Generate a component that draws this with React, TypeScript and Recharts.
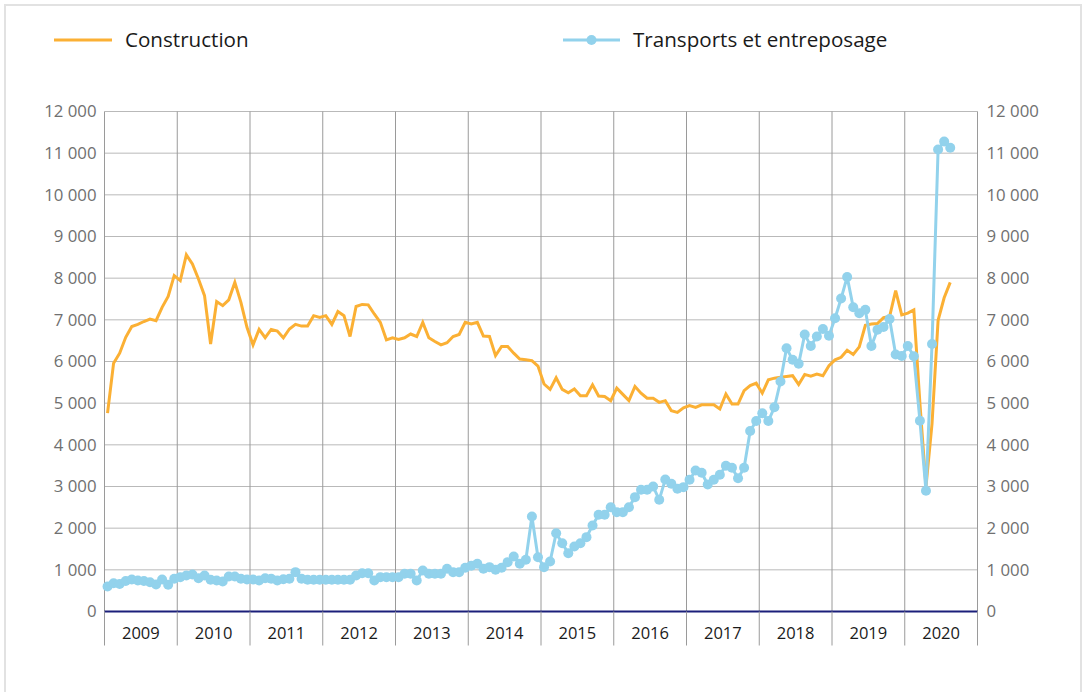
import React from 'react';
import { LineChart, Line, XAxis, YAxis, CartesianGrid, Legend } from 'recharts';

const years = ['2009', '2010', '2011', '2012', '2013', '2014', '2015', '2016', '2017', '2018', '2019', '2020'];

const construction = [
  4760, 5960, 6200, 6580, 6840, 6890, 6960, 7020, 6980, 7300, 7560, 8060,
  7940, 8560, 8340, 7980, 7580, 6420, 7440, 7340, 7480, 7900, 7420, 6820,
  6400, 6770, 6570, 6770, 6730, 6570, 6780, 6890, 6850, 6850, 7100, 7060,
  7100, 6890, 7200, 7100, 6600, 7320, 7370, 7360, 7140, 6940, 6520, 6570,
  6530, 6570, 6660, 6600, 6940, 6570, 6480, 6400, 6450, 6600, 6650, 6940,
  6900, 6940, 6610, 6600, 6140, 6360, 6360, 6200, 6060, 6040, 6020, 5890,
  5460, 5330, 5610, 5330, 5250, 5340, 5180, 5180, 5440, 5170, 5160, 5060,
  5360, 5210, 5060, 5400, 5240, 5120, 5120, 5020, 5060, 4820, 4780, 4890,
  4940, 4900, 4960, 4960, 4960, 4860, 5220, 4980, 4980, 5300, 5420, 5480,
  5240, 5560, 5600, 5620, 5640, 5660, 5450, 5690, 5650, 5700, 5660, 5900,
  6040, 6100, 6270, 6170, 6350, 6870, 6900, 6910, 7050, 7080, 7700, 7120,
  7160, 7240, 5000, 3000, 4510, 6990, 7530, 7900,
];

const transports = [
  600, 680, 660, 730, 770, 745, 730, 700, 650, 770, 640, 785,
  825, 865, 890, 800, 865, 760, 745, 720, 840, 840, 785, 770,
  770, 745, 800, 785, 745, 775, 785, 945, 785, 760, 760, 760,
  760, 760, 760, 760, 760, 865, 920, 920, 745, 825, 825, 825,
  825, 905, 905, 745, 985, 905, 905, 905, 1025, 945, 945, 1050,
  1100, 1145, 1025, 1065, 1000, 1050, 1185, 1320, 1145, 1240, 2280, 1300,
  1065, 1200, 1880, 1640, 1400, 1560, 1640, 1785, 2065, 2320, 2320, 2500,
  2385, 2385, 2500, 2745, 2920, 2920, 3000, 2680, 3170, 3065, 2945, 2985,
  3160, 3385, 3330, 3050, 3160, 3280, 3500, 3450, 3200, 3450, 4330, 4570,
  4760, 4570, 4900, 5520, 6320, 6040, 5945, 6650, 6370, 6600, 6780, 6620,
  7040, 7510, 8030, 7300, 7160, 7240, 6370, 6760, 6830, 7020, 6170, 6130,
  6370, 6125, 4580, 2900, 6420, 11090, 11280, 11130,
];

const yTicks = [0, 1000, 2000, 3000, 4000, 5000, 6000, 7000, 8000, 9000, 10000, 11000, 12000];
const seriesNames = ['Construction', 'Transports et entreposage'];

const MONTHS = 12;
const data = construction.map((c, i) => ({ x: i + 0.5, construction: c, transports: transports[i] }));
const xTicks = years.map((_, k) => k * MONTHS).concat([years.length * MONTHS]);

const FONT = "'Open Sans', sans-serif";
const ORANGE = '#FBB034';
const BLUE = '#92D2EC';
const NAVY = '#1B1F7A';

const W = 1084;
const H = 692;
const LEGEND_H = 70;
const M = { top: 111.5 - LEGEND_H, right: 0.5, bottom: 35.5, left: 0.5 };
const LEFT_W = 104;
const RIGHT_W = 106;
const PLOT_W = W - M.left - M.right - LEFT_W - RIGHT_W;
const YEAR_PX = (PLOT_W / (years.length * MONTHS)) * MONTHS;

const fmt = (v: number) => (v < 1000 ? String(v) : `${Math.floor(v / 1000)} ${String(v % 1000).padStart(3, '0')}`);

function YearTick(props: any) {
  const { x, y, payload } = props;
  const k = Math.round(payload.value / MONTHS);
  if (k >= years.length) return <g />;
  return (
    <text x={x + YEAR_PX / 2} y={y - 6.5} textAnchor="middle" fill="#1a1a1a" fontSize={16.5} fontFamily={FONT}>
      {years[k]}
    </text>
  );
}

function LegendContent() {
  return (
    <svg width={W} height={LEGEND_H} style={{ display: 'block' }}>
      <line x1={54} x2={112} y1={40} y2={40} stroke={ORANGE} strokeWidth={3} />
      <text x={125} y={47} fontSize={20.6} fontFamily={FONT} fill="#1a1a1a">{seriesNames[0]}</text>
      <line x1={563} x2={620} y1={40} y2={40} stroke={BLUE} strokeWidth={3} />
      <circle cx={591.5} cy={40} r={5} fill={BLUE} />
      <text x={633} y={47} fontSize={20.6} fontFamily={FONT} fill="#1a1a1a">{seriesNames[1]}</text>
    </svg>
  );
}

export default function App() {
  return (
    <div style={{ position: 'absolute', left: 0, top: 0, width: W, height: H, background: '#fff', overflow: 'hidden' }}>
      <div style={{ position: 'absolute', left: 4, top: 4, width: 1074, height: 720, border: '2px solid #e2e2e2' }} />
      <div style={{ position: 'absolute', left: 0, top: 0 }}>
        <LineChart width={W} height={H} data={data} margin={M}>
          <CartesianGrid yAxisId="l" vertical={false} stroke="#b9b9b9" strokeWidth={1} />
          <CartesianGrid yAxisId="l" horizontal={false} stroke="#9a9a9a" strokeWidth={1} />
          <XAxis
            type="number"
            dataKey="x"
            domain={[0, years.length * MONTHS]}
            ticks={xTicks}
            interval={0}
            height={45}
            axisLine={{ stroke: NAVY, strokeWidth: 2 }}
            tickLine={{ stroke: '#9a9a9a' }}
            tickSize={34}
            tickMargin={0}
            tick={<YearTick />}
          />
          <YAxis
            yAxisId="l"
            orientation="left"
            width={LEFT_W}
            domain={[0, 12000]}
            ticks={yTicks}
            interval={0}
            tickFormatter={fmt}
            axisLine={false}
            tickLine={false}
            tickSize={0}
            tickMargin={8}
            tick={{ fill: '#707070', fontSize: 16.8, fontFamily: FONT }}
          />
          <YAxis
            yAxisId="r"
            orientation="right"
            width={RIGHT_W}
            domain={[0, 12000]}
            ticks={yTicks}
            interval={0}
            tickFormatter={fmt}
            axisLine={false}
            tickLine={false}
            tickSize={0}
            tickMargin={9}
            tick={{ fill: '#707070', fontSize: 16.8, fontFamily: FONT, textAnchor: 'start' }}
          />
          <Legend
            layout="vertical"
            align="center"
            verticalAlign="top"
            content={<LegendContent />}
            wrapperStyle={{ position: 'absolute', top: 0, left: 0, width: W, height: LEGEND_H }}
          />
          <Line
            yAxisId="l"
            type="linear"
            dataKey="construction"
            name={seriesNames[0]}
            stroke={ORANGE}
            strokeWidth={3}
            dot={false}
            activeDot={false}
            isAnimationActive={false}
          />
          <Line
            yAxisId="r"
            type="linear"
            dataKey="transports"
            name={seriesNames[1]}
            stroke={BLUE}
            strokeWidth={3}
            dot={{ r: 5, fill: BLUE, stroke: 'none' }}
            activeDot={false}
            isAnimationActive={false}
          />
        </LineChart>
      </div>
    </div>
  );
}
